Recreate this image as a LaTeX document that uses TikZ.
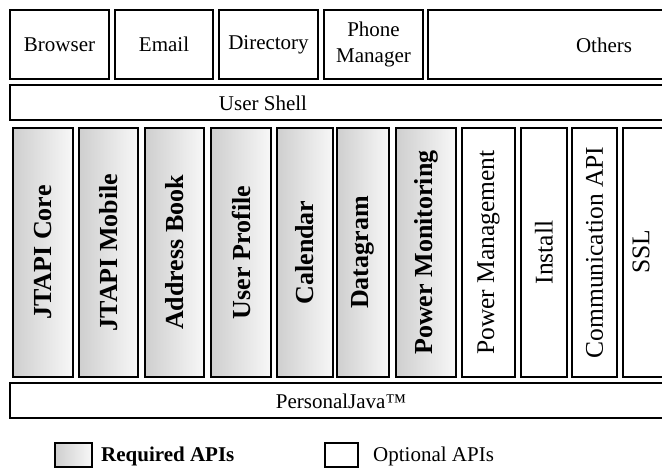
\documentclass[tikz,border=0pt]{standalone}
\usepackage{fontspec}
\setmainfont{Liberation Serif}
\usepackage{graphicx}
\begin{document}
\begin{tikzpicture}[x=1pt,y=-1pt,
  box/.style={draw=black,line width=1.1pt,inner sep=0pt,fill=white,align=center,font=\fontsize{21}{23}\selectfont},
  req/.style={box,left color=gray!38,right color=gray!6,font=\fontsize{26}{28}\selectfont\bfseries},
  opt/.style={box,font=\fontsize{25.5}{28}\selectfont},
  legtext/.style={inner sep=0pt,anchor=west,font=\fontsize{21}{23}\selectfont}]
\useasboundingbox (0,0) rectangle (662,470);
\clip (0,0) rectangle (662,470);
\newcommand{\bx}[6]{\node[#1,minimum width={#4-#3},minimum height={#6-#5}] (#2) at ({(#3+#4)/2},{(#5+#6)/2})}
% top row
\bx{box}{browser}{10}{109}{10}{79}{Browser};
\bx{box}{email}{115}{213}{10}{79}{Email};
\bx{box}{directory}{219}{318}{10}{79}{Directory};
\bx{box}{phone}{324}{423}{10}{79}{Phone\\[3pt]Manager};
\bx{box}{others}{428}{668}{10}{79}{};
\node[inner sep=0pt,font=\fontsize{21}{23}\selectfont] (otherstext) at (604,45) {Others};
% user shell
\bx{box}{shell}{10}{668}{85}{120}{};
\node[inner sep=0pt,font=\fontsize{21}{23}\selectfont] (shelltext) at (263,103) {User Shell};
% API columns
\bx{req}{core}{13}{73}{128}{377}{\rotatebox{90}{JTAPI Core}};
\bx{req}{mobile}{79}{138}{128}{377}{\rotatebox{90}{JTAPI Mobile}};
\bx{req}{address}{145}{204}{128}{377}{\rotatebox{90}{Address Book}};
\bx{req}{profile}{211}{271}{128}{377}{\rotatebox{90}{User Profile}};
\bx{req}{calendar}{277}{333}{128}{377}{\rotatebox{90}{Calendar}};
\bx{req}{datagram}{337}{389}{128}{377}{\rotatebox{90}{Datagram}};
\bx{req}{powermon}{396}{456}{128}{377}{\rotatebox{90}{Power Monitoring}};
\bx{opt}{powerman}{462}{515}{128}{377}{\rotatebox{90}{Power Management}};
\bx{opt}{install}{521}{567}{128}{377}{\rotatebox{90}{Install}};
\bx{opt}{comm}{572}{617}{128}{377}{\rotatebox{90}{Communication API}};
\bx{opt}{ssl}{623}{680}{128}{377}{};
\node[inner sep=0pt,font=\fontsize{25.5}{28}\selectfont] (ssltext) at (641,252) {\rotatebox{90}{SSL}};
% PersonalJava
\bx{box}{pjava}{10}{668}{383}{418}{};
\node[inner sep=0pt,font=\fontsize{21}{23}\selectfont] (pjavatext) at (341,401) {PersonalJava™};
% legend
\bx{req}{legreq}{55}{92}{443}{467}{};
\node[legtext,font=\fontsize{21}{23}\selectfont\bfseries] (legreqtext) at (101,456) {Required APIs};
\bx{box}{legopt}{325}{358}{443}{467}{};
\node[legtext] (legopttext) at (373,456) {Optional APIs};
\end{tikzpicture}
\end{document}
